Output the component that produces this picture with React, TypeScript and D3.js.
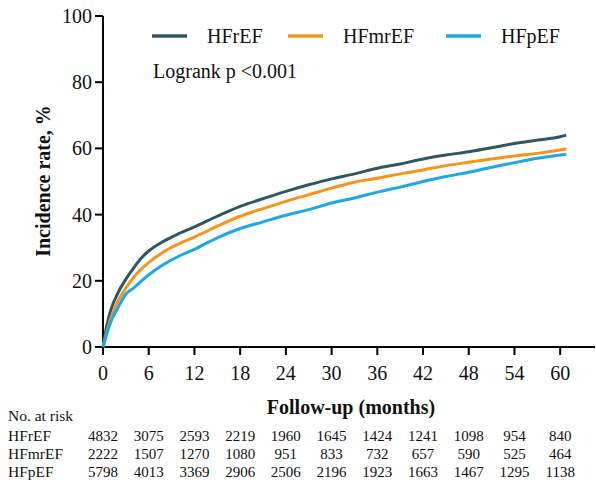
import React from "react";
import * as d3 from "d3";

const seriesNames = ["HFrEF", "HFmrEF", "HFpEF"];
const seriesColors = ["#2f5762", "#f7941d", "#1aa9e6"];

const months = [0, 0.5, 1, 2, 3, 4, 5, 6, 8, 10, 12, 15, 18, 21, 24, 27, 30, 33, 36, 39, 42, 45, 48, 51, 54, 57, 60, 60.8];
const hfrefValues = [0, 6.5, 11, 16.5, 20.5, 23.8, 26.8, 29, 32, 34.3, 36.3, 39.5, 42.5, 44.8, 47, 49, 50.8, 52.3, 54, 55.3, 56.8, 58, 59, 60.2, 61.5, 62.5, 63.5, 64];
const hfmrefValues = [0, 4.5, 8.5, 14, 17.8, 21, 23.5, 25.5, 28.8, 31.2, 33.2, 36.5, 39.5, 41.8, 44, 46, 48, 49.8, 51, 52.3, 53.5, 54.8, 55.8, 56.8, 57.7, 58.5, 59.5, 59.8];
const hfpefValues = [0, 4, 7.5, 12, 16, 17.8, 19.8, 21.8, 25, 27.5, 29.5, 33, 35.8, 37.8, 39.8, 41.5, 43.5, 45, 46.8, 48.3, 50, 51.5, 52.8, 54.3, 55.7, 57, 58, 58.2];

const xTicks = [0, 6, 12, 18, 24, 30, 36, 42, 48, 54, 60];
const yTicks = [0, 20, 40, 60, 80, 100];

const riskHFrEF = [4832, 3075, 2593, 2219, 1960, 1645, 1424, 1241, 1098, 954, 840];
const riskHFmrEF = [2222, 1507, 1270, 1080, 951, 833, 732, 657, 590, 525, 464];
const riskHFpEF = [5798, 4013, 3369, 2906, 2506, 2196, 1923, 1663, 1467, 1295, 1138];

const W = 596;
const H = 486;
const font = "Liberation Serif";

export default function App() {
  const x = d3.scaleLinear().domain([0, 64.7]).range([103, 596]);
  const y = d3.scaleLinear().domain([0, 100]).range([347, 16]);
  const allSeries = [hfrefValues, hfmrefValues, hfpefValues];
  const risks = [riskHFrEF, riskHFmrEF, riskHFpEF];
  const line = d3
    .line<[number, number]>()
    .x((d) => x(d[0]))
    .y((d) => y(d[1]))
    .curve(d3.curveMonotoneX);

  const legendX = [152, 288, 446];
  const ts: React.CSSProperties = { fontFamily: font };

  return (
    <svg width={W} height={H} style={{ position: "absolute", left: 0, top: 0, background: "#fff" }}>
      {/* axes */}
      <line x1={x(0)} x2={x(0)} y1={y(100)} y2={y(0)} stroke="#000" strokeWidth={2} />
      <line x1={x(0) - 1} x2={595} y1={y(0)} y2={y(0)} stroke="#000" strokeWidth={2} />
      {yTicks.map((t) => (
        <g key={"y" + t}>
          <line x1={x(0) - 8} x2={x(0)} y1={y(t)} y2={y(t)} stroke="#000" strokeWidth={2} />
          <text x={x(0) - 11} y={y(t) + 7} fontSize={20} textAnchor="end" fill="#111" style={ts}>
            {t}
          </text>
        </g>
      ))}
      {xTicks.map((t) => (
        <g key={"x" + t}>
          <line x1={x(t)} x2={x(t)} y1={y(0)} y2={y(0) + 8} stroke="#000" strokeWidth={2} />
          <text x={x(t)} y={380} fontSize={20} textAnchor="middle" fill="#111" style={ts}>
            {t}
          </text>
        </g>
      ))}
      <text
        transform={`translate(50,181) rotate(-90)`}
        fontSize={20}
        fontWeight="bold"
        textAnchor="middle"
        fill="#111"
        style={ts}
      >
        Incidence rate, %
      </text>
      <text x={351} y={414} fontSize={20} fontWeight="bold" textAnchor="middle" fill="#111" style={ts}>
        Follow-up (months)
      </text>

      {/* curves */}
      {allSeries.map((vals, i) => (
        <path
          key={seriesNames[i]}
          d={line(months.map((m, j) => [m, vals[j]] as [number, number])) || ""}
          fill="none"
          stroke={seriesColors[i]}
          strokeWidth={3}
        />
      ))}

      {/* legend */}
      {seriesNames.map((n, i) => (
        <g key={"lg" + n}>
          <line x1={legendX[i]} x2={legendX[i] + 35} y1={36} y2={36} stroke={seriesColors[i]} strokeWidth={3.5} />
          <text x={legendX[i] + 55} y={43} fontSize={20} fill="#111" style={ts}>
            {n}
          </text>
        </g>
      ))}
      <text x={153} y={78} fontSize={20} fill="#111" style={ts}>
        Logrank p {"<"}0.001
      </text>

      {/* risk table */}
      <text x={8} y={421} fontSize={15.5} fill="#111" style={ts}>
        No. at risk
      </text>
      {seriesNames.map((n, i) => (
        <g key={"rt" + n}>
          <text x={8} y={441 + i * 18} fontSize={15.5} fill="#111" style={ts}>
            {n}
          </text>
          {risks[i].map((v, j) => (
            <text key={j} x={x(xTicks[j])} y={441 + i * 18} fontSize={15} textAnchor="middle" fill="#111" style={ts}>
              {v}
            </text>
          ))}
        </g>
      ))}
    </svg>
  );
}
